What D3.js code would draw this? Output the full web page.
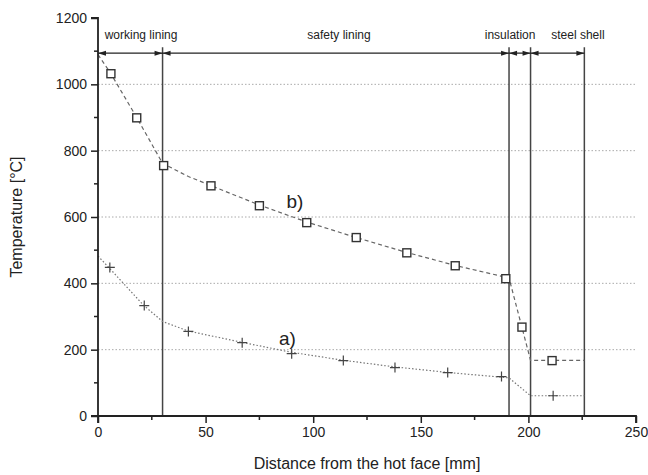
<!DOCTYPE html>
<html>
<head>
<meta charset="utf-8">
<script src="https://cdn.jsdelivr.net/npm/d3@7"></script>
<style>
  body { margin: 0; background: #fff; }
  svg { font-family: "Liberation Sans", Arial, sans-serif; }
</style>
</head>
<body>
<div id="chart"></div>
<script>
// measured points, curve b (squares)
const bX = [6, 18, 30.5, 52.5, 75, 97, 120, 143.5, 166, 189.5, 197, 211];
const bT = [1032, 899, 755, 694, 634, 583, 538, 492, 453, 414, 268, 167];
// measured points, curve a (crosses)
const aX = [5.5, 21.5, 42, 67, 90, 114, 138, 162.5, 187.5, 211.5];
const aT = [448, 333, 255, 221, 188, 167, 146, 131, 119, 61];
// calculated profile b (dashed)
const bFitX = [0, 6, 18, 30, 42, 52, 75, 97, 120, 143, 166, 191, 201, 226];
const bFitT = [1090, 1032, 900, 762, 722, 696, 636, 585, 538, 494, 454, 416, 168, 168];
// calculated profile a (dotted)
const aFitX = [0, 5, 21, 30, 42, 67, 90, 114, 138, 163, 191, 201, 226];
const aFitT = [482, 448, 335, 285, 256, 222, 192, 168, 148, 131, 115, 61, 61];
// layer boundaries [mm] and labels
const bounds = [0, 30, 191, 201, 226];
const layerNames = ["working lining", "safety lining", "insulation", "steel shell"];
const layerLabelX = [20, 112, 191.5, 223];
const xTicks = [0, 50, 100, 150, 200, 250];
const yTicks = [0, 200, 400, 600, 800, 1000, 1200];

const W = 648, H = 475;
const m = { left: 98, right: 12, top: 18, bottom: 59 };

const svg = d3.select("#chart").append("svg")
    .attr("width", W)
    .attr("height", H);

const x = d3.scaleLinear().domain([0, 250]).range([m.left, W - m.right]);
const y = d3.scaleLinear().domain([0, 1200]).range([H - m.bottom, m.top]);

// grid
svg.append("g")
    .selectAll("line")
    .data(yTicks.filter(d => d > 0 && d < 1200))
    .enter().append("line")
    .attr("x1", x(0)).attr("x2", x(250))
    .attr("y1", d => y(d)).attr("y2", d => y(d))
    .attr("stroke", "#aaa")
    .attr("stroke-width", 1)
    .attr("stroke-dasharray", "1.5,2");

// boundary lines
const topY = y(1112);
svg.append("g")
    .selectAll("line")
    .data(bounds.slice(1))
    .enter().append("line")
    .attr("x1", d => x(d)).attr("x2", d => x(d))
    .attr("y1", topY).attr("y2", y(0))
    .attr("stroke", "#444")
    .attr("stroke-width", 1.5);

// dimension line with arrows
const dimY = y(1094);
svg.append("line")
    .attr("x1", x(0)).attr("x2", x(226))
    .attr("y1", dimY).attr("y2", dimY)
    .attr("stroke", "#222")
    .attr("stroke-width", 1.2);

const arrows = [];
for (let i = 0; i < bounds.length - 1; i++) {
    arrows.push({ at: bounds[i], dir: -1 });
    arrows.push({ at: bounds[i + 1], dir: 1 });
}
svg.append("g")
    .selectAll("path")
    .data(arrows)
    .enter().append("path")
    .attr("d", d => {
        const px = x(d.at);
        return `M${px},${dimY} L${px - d.dir * 8},${dimY - 2.5} L${px - d.dir * 8},${dimY + 2.5}Z`;
    })
    .attr("fill", "#222");

svg.append("g")
    .selectAll("text")
    .data(layerNames)
    .enter().append("text")
    .attr("x", (d, i) => x(layerLabelX[i]))
    .attr("y", 39)
    .attr("text-anchor", "middle")
    .attr("font-size", 12)
    .attr("fill", "#222")
    .text(d => d);

// fitted curves
const line = d3.line().x(d => x(d[0])).y(d => y(d[1]));
svg.append("path")
    .datum(bFitX.map((v, i) => [v, bFitT[i]]))
    .attr("d", line)
    .attr("fill", "none")
    .attr("stroke", "#666")
    .attr("stroke-width", 1.2)
    .attr("stroke-dasharray", "4,3");
svg.append("path")
    .datum(aFitX.map((v, i) => [v, aFitT[i]]))
    .attr("d", line)
    .attr("fill", "none")
    .attr("stroke", "#777")
    .attr("stroke-width", 1.2)
    .attr("stroke-dasharray", "1.5,2");

// markers
svg.append("g")
    .selectAll("rect")
    .data(bX.map((v, i) => [v, bT[i]]))
    .enter().append("rect")
    .attr("x", d => x(d[0]) - 4)
    .attr("y", d => y(d[1]) - 4)
    .attr("width", 8).attr("height", 8)
    .attr("fill", "#fff")
    .attr("stroke", "#333")
    .attr("stroke-width", 1.4);

svg.append("g")
    .selectAll("path")
    .data(aX.map((v, i) => [v, aT[i]]))
    .enter().append("path")
    .attr("d", d => {
        const px = x(d[0]), py = y(d[1]);
        return `M${px - 5},${py}H${px + 5}M${px},${py - 5}V${py + 5}`;
    })
    .attr("stroke", "#444")
    .attr("stroke-width", 1.2);

// curve labels
svg.append("text")
    .attr("x", x(91.5)).attr("y", y(647) + 7)
    .attr("text-anchor", "middle")
    .attr("font-size", 19)
    .attr("fill", "#222")
    .text("b)");
svg.append("text")
    .attr("x", x(88)).attr("y", y(234) + 7)
    .attr("text-anchor", "middle")
    .attr("font-size", 19)
    .attr("fill", "#222")
    .text("a)");

// axes
const xAxis = svg.append("g")
    .attr("transform", `translate(0,${y(0)})`)
    .call(d3.axisBottom(x).tickValues(xTicks).tickFormat(d3.format("d")).tickSize(7).tickPadding(4));
xAxis.append("g").selectAll("line")
    .data([25, 75, 125, 175, 225])
    .enter().append("line")
    .attr("x1", d => x(d)).attr("x2", d => x(d))
    .attr("y1", 0).attr("y2", 4)
    .attr("stroke", "#222").attr("stroke-width", 1.5);

const yAxis = svg.append("g")
    .attr("transform", `translate(${x(0)},0)`)
    .call(d3.axisLeft(y).tickValues(yTicks).tickFormat(d3.format("d")).tickSize(7).tickPadding(4));
yAxis.append("g").selectAll("line")
    .data([100, 300, 500, 700, 900, 1100])
    .enter().append("line")
    .attr("y1", d => y(d)).attr("y2", d => y(d))
    .attr("x1", 0).attr("x2", -4)
    .attr("stroke", "#222").attr("stroke-width", 1.5);

[xAxis, yAxis].forEach(a => {
    a.select(".domain").attr("stroke", "#222").attr("stroke-width", 1.8);
    a.selectAll(".tick line").attr("stroke", "#222").attr("stroke-width", 1.5);
    a.selectAll(".tick text")
        .attr("font-size", 14)
        .attr("font-family", "'Liberation Sans', Arial, sans-serif")
        .attr("fill", "#222");
});
xAxis.select(".domain").attr("d", `M${x(0)},7V0H${x(250)}V7`);
yAxis.select(".domain").attr("d", `M-7,${y(0)}H0V${y(1200)}H-7`);

svg.append("text")
    .attr("x", (x(0) + x(250)) / 2)
    .attr("y", 469)
    .attr("text-anchor", "middle")
    .attr("font-size", 16)
    .attr("fill", "#222")
    .text("Distance from the hot face [mm]");

svg.append("text")
    .attr("transform", `translate(22,${(y(0) + y(1200)) / 2}) rotate(-90)`)
    .attr("text-anchor", "middle")
    .attr("font-size", 16)
    .attr("fill", "#222")
    .text("Temperature [°C]");
</script>
</body>
</html>
